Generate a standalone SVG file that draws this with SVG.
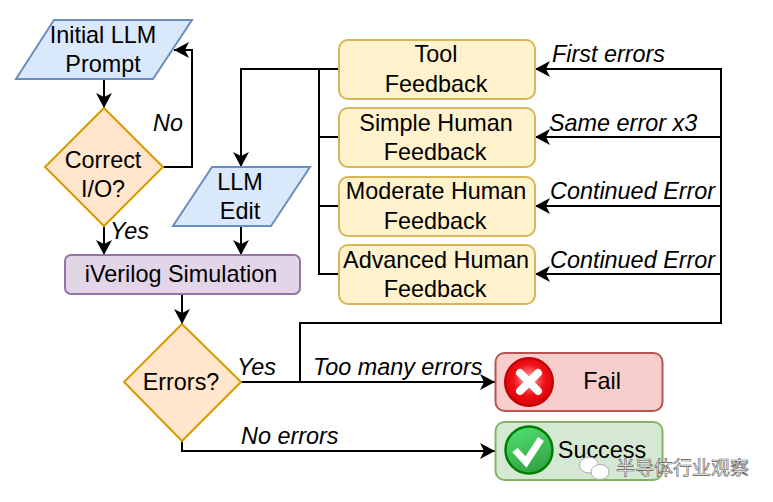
<svg xmlns="http://www.w3.org/2000/svg" width="773" height="502" viewBox="0 0 773 502">
<defs>
<marker id="a" markerUnits="userSpaceOnUse" markerWidth="18" markerHeight="18" refX="15" refY="8" orient="auto"><path d="M0,0 L15,8 L0,16 L4,8 Z" fill="#000"/></marker>
<radialGradient id="r" cx="0.5" cy="0.45" r="0.6"><stop offset="0" stop-color="#ffb0b0"/><stop offset="0.55" stop-color="#f01018"/><stop offset="1" stop-color="#d00000"/></radialGradient>
<linearGradient id="g" x1="0.3" y1="0" x2="0.7" y2="1"><stop offset="0" stop-color="#50dd70"/><stop offset="1" stop-color="#30a040"/></linearGradient>
</defs>
<style>
text{font-family:"Liberation Sans",Arial,sans-serif;font-size:23.400px;fill:#000;text-anchor:middle}
.i{font-style:italic;text-anchor:start}
.blue{fill:#dae8fc;stroke:#6c8ebf;stroke-width:2}
.or{fill:#ffe6cc;stroke:#d79b00;stroke-width:2}
.ye{fill:#fff2cc;stroke:#d6b656;stroke-width:2}
.c{fill:none;stroke:#000;stroke-width:2}
</style>
<g id="connectors">
<path class="c" d="M104 79V108" marker-end="url(#a)"/>
<path class="c" d="M163 167H192V50H174" marker-end="url(#a)"/>
<path class="c" d="M104 226V255" marker-end="url(#a)"/>
<path class="c" d="M241 226V255" marker-end="url(#a)"/>
<path class="c" d="M338 69H241V167" marker-end="url(#a)"/>
<path class="c" d="M338 137H319V69"/>
<path class="c" d="M338 206H319V137"/>
<path class="c" d="M338 274H319V206"/>
<path class="c" d="M182 295V324" marker-end="url(#a)"/>
<path class="c" d="M241 382H495" marker-end="url(#a)"/>
<path class="c" d="M182 441V451H495" marker-end="url(#a)"/>
<path class="c" d="M300 382V323H721V69H535" marker-end="url(#a)"/>
<path class="c" d="M721 137H535" marker-end="url(#a)"/>
<path class="c" d="M721 206H535" marker-end="url(#a)"/>
<path class="c" d="M721 274H535" marker-end="url(#a)"/>
</g>
<g id="initial-prompt"><path class="blue" d="M54 20H192L153 79H16Z"/><text x="103" y="43">Initial LLM</text><text x="103" y="72">Prompt</text></g>
<g id="correct-io"><path class="or" d="M104 108L163 167L104 226L45 167Z"/><text x="103" y="168">Correct</text><text x="103" y="197">I/O?</text></g>
<g id="llm-edit"><path class="blue" d="M212 167H310L271 226H173Z"/><text x="240" y="190">LLM</text><text x="240" y="219">Edit</text></g>
<g id="simulation"><rect x="65" y="255" width="235" height="39" rx="6" fill="#e1d5e7" stroke="#9673a6" stroke-width="2"/><text x="181" y="282">iVerilog Simulation</text></g>
<g id="errors"><path class="or" d="M182 324L241 382L182 441L124 382Z"/><text x="181" y="390">Errors?</text></g>
<g id="tool-feedback"><rect class="ye" x="339" y="40" width="196" height="59" rx="9"/><text x="436" y="62">Tool</text><text x="436" y="92">Feedback</text></g>
<g id="simple-feedback"><rect class="ye" x="339" y="108" width="196" height="59" rx="9"/><text x="436" y="131">Simple Human</text><text x="435" y="160">Feedback</text></g>
<g id="moderate-feedback"><rect class="ye" x="339" y="177" width="196" height="59" rx="9"/><text x="436" y="199">Moderate Human</text><text x="435" y="229">Feedback</text></g>
<g id="advanced-feedback"><rect class="ye" x="339" y="245" width="196" height="59" rx="9"/><text x="436" y="268">Advanced Human</text><text x="435" y="297">Feedback</text></g>
<g id="fail"><rect x="495.500" y="353" width="167" height="58" rx="9" fill="#f8cecc" stroke="#b85450" stroke-width="2"/>
<circle cx="529" cy="382" r="24" fill="url(#r)" stroke="#c00000" stroke-width="2"/>
<path d="M520 373L538 391M538 373L520 391" stroke="#fff" stroke-width="8" stroke-linecap="round" fill="none"/>
<text x="602" y="389">Fail</text></g>
<g id="success"><rect x="495.500" y="422" width="167" height="58" rx="9" fill="#d5e8d4" stroke="#82b366" stroke-width="2"/>
<circle cx="529" cy="450" r="23.500" fill="url(#g)" stroke="#008000" stroke-width="2.500"/>
<path d="M515 450L526 462L541 439" stroke="#fff" stroke-width="7" fill="none"/>
<text x="602" y="458">Success</text></g>
<g id="labels">
<text class="i" x="153" y="131">No</text>
<text class="i" x="110" y="239">Yes</text>
<text class="i" x="237" y="375">Yes</text>
<text class="i" x="313" y="375">Too many errors</text>
<text class="i" x="241" y="444">No errors</text>
<text class="i" x="552" y="62">First errors</text>
<text class="i" x="549" y="131">Same error x3</text>
<text class="i" x="550" y="199">Continued Error</text>
<text class="i" x="550" y="268">Continued Error</text>
</g>
<g id="watermark">
<ellipse cx="589" cy="465" rx="9.500" ry="8" fill="#fff" stroke="#999" stroke-width="0.800"/>
<ellipse cx="600" cy="472" rx="9" ry="7.500" fill="#fff" stroke="#999" stroke-width="0.800"/>
<text x="616" y="475" style="font-family:'Noto Sans CJK SC',sans-serif;font-size:19px;text-anchor:start;fill:#fff;stroke:#555;stroke-width:0.600">半导体行业观察</text>
</g>
</svg>
